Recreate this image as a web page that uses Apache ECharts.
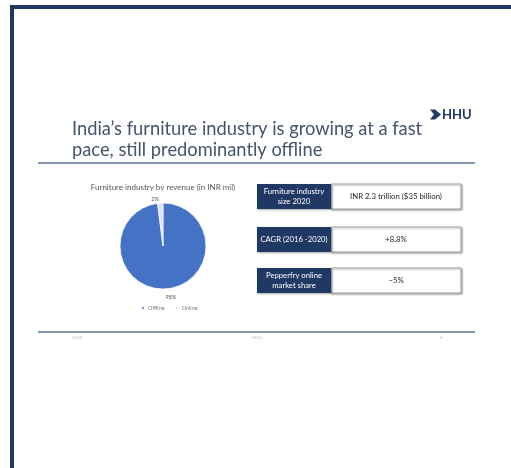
<!DOCTYPE html>
<html>
<head>
<meta charset="utf-8">
<script src="https://cdn.jsdelivr.net/npm/echarts@6/dist/echarts.min.js"></script>
<style>
  html, body { margin: 0; padding: 0; background: #ffffff; }
  #chart { width: 511px; height: 468px; }
</style>
</head>
<body>
<div id="chart"></div>
<script>
// Revenue split of the furniture industry
const pieCategories = ['Offline', 'Online'];
const pieValues = [98, 2];

// Key figures shown as label / value boxes
const statLabels = ['Furniture industry\nsize 2020', 'CAGR (2016 -2020)', 'Pepperfry online\nmarket share'];
const statValues = ['INR 2.3 trillion ($35 billion)', '+8.8%', '~5%'];

// Slide texts
const titleLines = ['India\u2019s furniture industry is growing at a fast', 'pace, still predominantly offline'];
const chartTitle = 'Furniture industry by revenue (in INR mil)';
const brand = 'HHU';
const footerTexts = ['2018', 'HHU', '6'];

const NAVY = '#203864';
const RULE = '#8497B0';
const FONT = 'Lato, "Open Sans", sans-serif';

const chart = echarts.init(document.getElementById('chart'), null, { renderer: 'canvas' });

const graphics = [];

// slide frame (top and left edges)
graphics.push({ type: 'rect', shape: { x: 10, y: 5, width: 501, height: 4 }, style: { fill: NAVY }, silent: true });
graphics.push({ type: 'rect', shape: { x: 10, y: 5, width: 4, height: 463 }, style: { fill: NAVY }, silent: true });

// heading
titleLines.forEach((line, i) => {
  graphics.push({
    type: 'text', x: 72, y: 129.5 + i * 21,
    style: { text: line, font: '18.3px ' + FONT, fill: '#44546A', verticalAlign: 'middle' }
  });
});

// brand mark
graphics.push({
  type: 'polygon',
  shape: { points: [[430, 109.5], [435, 109.5], [441, 114.5], [435, 119.5], [430, 119.5], [434, 114.5]] },
  style: { fill: NAVY }
});
graphics.push({
  type: 'text', x: 442, y: 114.5,
  style: { text: brand, font: 'bold 13px ' + FONT, fill: NAVY, verticalAlign: 'middle' }
});

// rules under heading and above footer
graphics.push({ type: 'line', shape: { x1: 38, y1: 163, x2: 475, y2: 163 }, style: { stroke: RULE, lineWidth: 2 } });
graphics.push({ type: 'line', shape: { x1: 38, y1: 332, x2: 475, y2: 332 }, style: { stroke: RULE, lineWidth: 2 } });

// key figure boxes
const rowTops = [184, 227, 268];
statLabels.forEach((lab, i) => {
  const y = rowTops[i];
  graphics.push({
    type: 'rect', shape: { x: 331, y: y, width: 130, height: 25 },
    style: { fill: '#ffffff', stroke: '#A6A6A6', lineWidth: 1, shadowBlur: 2, shadowOffsetX: 1, shadowOffsetY: 1, shadowColor: 'rgba(0,0,0,0.35)' }
  });
  graphics.push({
    type: 'rect', shape: { x: 257, y: y, width: 74, height: 25 },
    style: { fill: NAVY, shadowBlur: 2, shadowOffsetX: 1, shadowOffsetY: 1, shadowColor: 'rgba(0,0,0,0.35)' }
  });
  graphics.push({
    type: 'text', x: 294, y: y + 12.5,
    style: { text: lab, font: '7.7px ' + FONT, fill: '#ffffff', align: 'center', verticalAlign: 'middle', lineHeight: 10 }
  });
  graphics.push({
    type: 'text', x: 396, y: y + 12.5,
    style: { text: statValues[i], font: '7.8px ' + FONT, fill: '#262626', align: 'center', verticalAlign: 'middle' }
  });
});

// footer
const footerX = [77, 257, 441];
footerTexts.forEach((t, i) => {
  graphics.push({
    type: 'text', x: footerX[i], y: 338,
    style: { text: t, font: '4.5px ' + FONT, fill: '#BFBFBF', align: 'center', verticalAlign: 'middle' }
  });
});

chart.setOption({
  backgroundColor: '#ffffff',
  animation: false,
  title: {
    text: chartTitle,
    left: 163, top: 183, padding: 0, textAlign: 'center',
    textStyle: { fontFamily: FONT, fontSize: 8, fontWeight: 'normal', color: '#595959' }
  },
  legend: {
    data: pieCategories,
    left: 140, top: 305, padding: 0,
    icon: 'circle', itemWidth: 4, itemHeight: 4, itemGap: 9,
    textStyle: { fontFamily: FONT, fontSize: 5.5, color: '#7F7F7F', padding: [0, 0, 0, -2] }
  },
  color: ['#4472C4', '#D9E1F2'],
  graphic: graphics,
  series: [{
    type: 'pie',
    center: [163, 246],
    radius: 43,
    startAngle: 90,
    clockwise: true,
    silent: true,
    itemStyle: { borderColor: '#ffffff', borderWidth: 0.7 },
    label: {
      show: true, position: 'outside', formatter: '{d}%',
      fontFamily: FONT, fontSize: 5.5, color: '#595959'
    },
    labelLine: { show: false, length: 4, length2: 0 },
    labelLayout: function (p) {
      return { align: 'center', dy: p.dataIndex === 0 ? 4 : 0 };
    },
    data: pieCategories.map((name, i) => ({ name: name, value: pieValues[i] }))
  }]
});
</script>
</body>
</html>
